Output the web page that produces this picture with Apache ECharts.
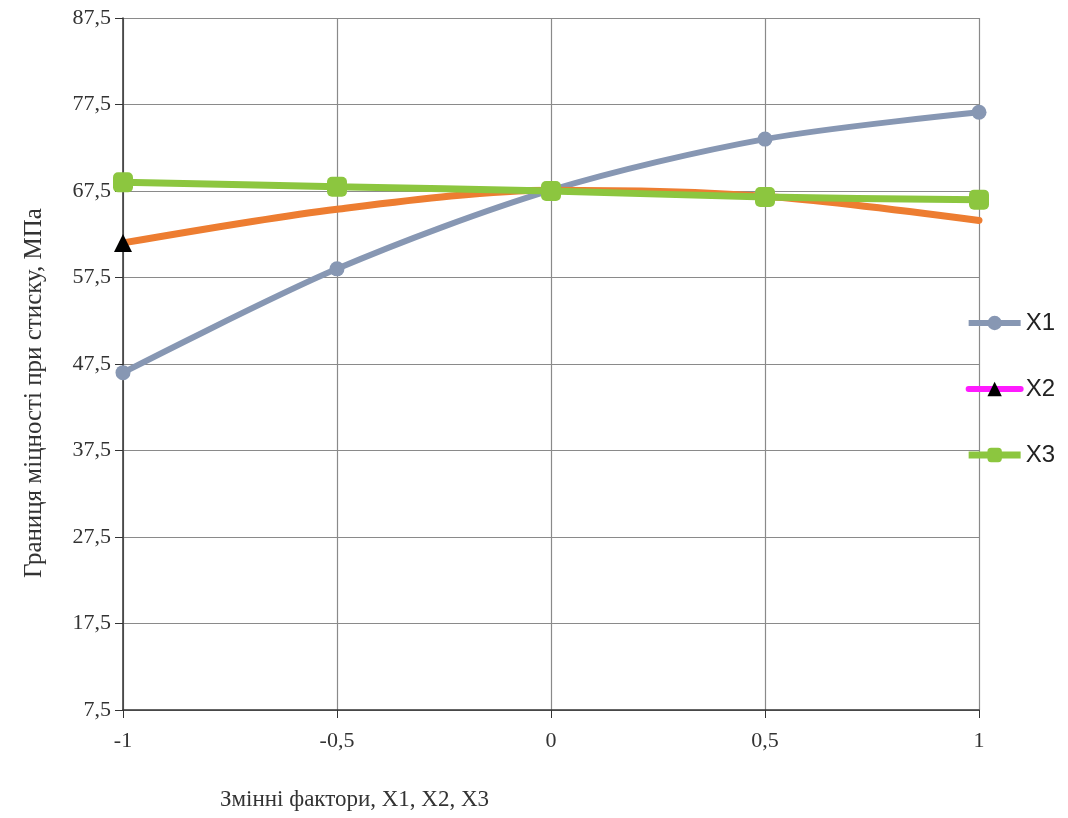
<!DOCTYPE html>
<html>
<head>
<meta charset="utf-8">
<script src="https://cdn.jsdelivr.net/npm/echarts@6/dist/echarts.min.js"></script>
<style>
  html, body { margin: 0; padding: 0; background: #fff; }
  #chart { width: 1068px; height: 818px; }
</style>
</head>
<body>
<div id="chart"></div>
<script>
// значення факторів (кодовані рівні)
const factors = [-1, -0.5, 0, 0.5, 1];
const x1Values = [46.5, 58.5, 67.6, 73.5, 76.6];
const x2Values = [61.5, 65.4, 67.6, 66.9, 64.1];
const x3Values = [68.5, 68.0, 67.5, 66.8, 66.5];
const seriesNames = ['X1', 'X2', 'X3'];

const comma = v => String(v).replace('.', ',');
const pairs = vals => factors.map((f, i) => [f, vals[i]]);

let myChart = echarts.init(document.getElementById('chart'));

let option = {
    animation: false,
    grid: { left: 123, right: 89, top: 18, bottom: 108 },
    legend: {
        orient: 'vertical',
        right: 8,
        top: 306,
        itemGap: 42,
        itemWidth: 52,
        itemHeight: 18,
        itemStyle: { borderWidth: 0 },
        textStyle: { fontFamily: 'Liberation Sans', fontSize: 24, color: '#222' },
        data: [
            { name: 'X1', lineStyle: { width: 6 } },
            { name: 'X2', lineStyle: { color: '#ff1aff', width: 6 }, itemStyle: { color: '#000' } },
            { name: 'X3', lineStyle: { width: 7 } }
        ]
    },
    graphic: [
        {
            type: 'text',
            x: 22, y: 578,
            rotation: Math.PI / 2,
            style: {
                text: 'Границя міцності при стиску, МПа',
                font: '25px "Liberation Serif"',
                fill: '#333',
                textVerticalAlign: 'top'
            }
        },
        {
            type: 'text',
            x: 220, y: 788,
            style: {
                text: 'Змінні фактори, Х1, Х2, Х3',
                font: '23px "Liberation Serif"',
                fill: '#333'
            }
        }
    ],
    xAxis: {
        type: 'value',
        min: -1, max: 1, interval: 0.5,
        axisLine: { onZero: false, lineStyle: { color: '#333', width: 1.5 } },
        axisTick: { show: true, length: 8, lineStyle: { color: '#333' } },
        axisLabel: {
            formatter: comma, margin: 20,
            fontFamily: 'Liberation Serif', fontSize: 22, color: '#333'
        },
        splitLine: { show: true, lineStyle: { color: '#8a8a8a', width: 1.2 } }
    },
    yAxis: {
        type: 'value',
        min: 7.5, max: 87.5, interval: 10,
        axisLine: { show: true, onZero: false, lineStyle: { color: '#333', width: 1.5 } },
        axisTick: { show: true, length: 8, lineStyle: { color: '#333' } },
        axisLabel: {
            formatter: comma, margin: 12,
            fontFamily: 'Liberation Serif', fontSize: 22, color: '#333'
        },
        splitLine: { show: true, lineStyle: { color: '#8a8a8a', width: 1.2 } }
    },
    series: [
        {
            name: seriesNames[0],
            type: 'line',
            smooth: 0.3,
            data: pairs(x1Values),
            symbol: 'circle',
            symbolSize: 15,
            color: '#8797b3',
            lineStyle: { width: 6, color: '#8797b3' },
            itemStyle: { color: '#8797b3' }
        },
        {
            name: seriesNames[1],
            type: 'line',
            smooth: 0.3,
            symbol: 'triangle',
            symbolSize: 18,
            data: pairs(x2Values).map((p, i) => i === 0
                ? { value: p, itemStyle: { color: '#000' } }
                : { value: p, symbol: 'none' }),
            color: '#ed7d31',
            lineStyle: { width: 7, color: '#ed7d31', cap: 'round' },
            itemStyle: { color: '#ed7d31' },
            z: 3
        },
        {
            name: seriesNames[2],
            type: 'line',
            smooth: 0.3,
            data: pairs(x3Values),
            symbol: 'roundRect',
            symbolSize: 20,
            color: '#8cc63f',
            lineStyle: { width: 7, color: '#8cc63f' },
            itemStyle: { color: '#8cc63f' },
            z: 4
        }
    ]
};

myChart.setOption(option);

window.addEventListener('resize', function() {
    myChart.resize();
});
</script>
</body>
</html>
